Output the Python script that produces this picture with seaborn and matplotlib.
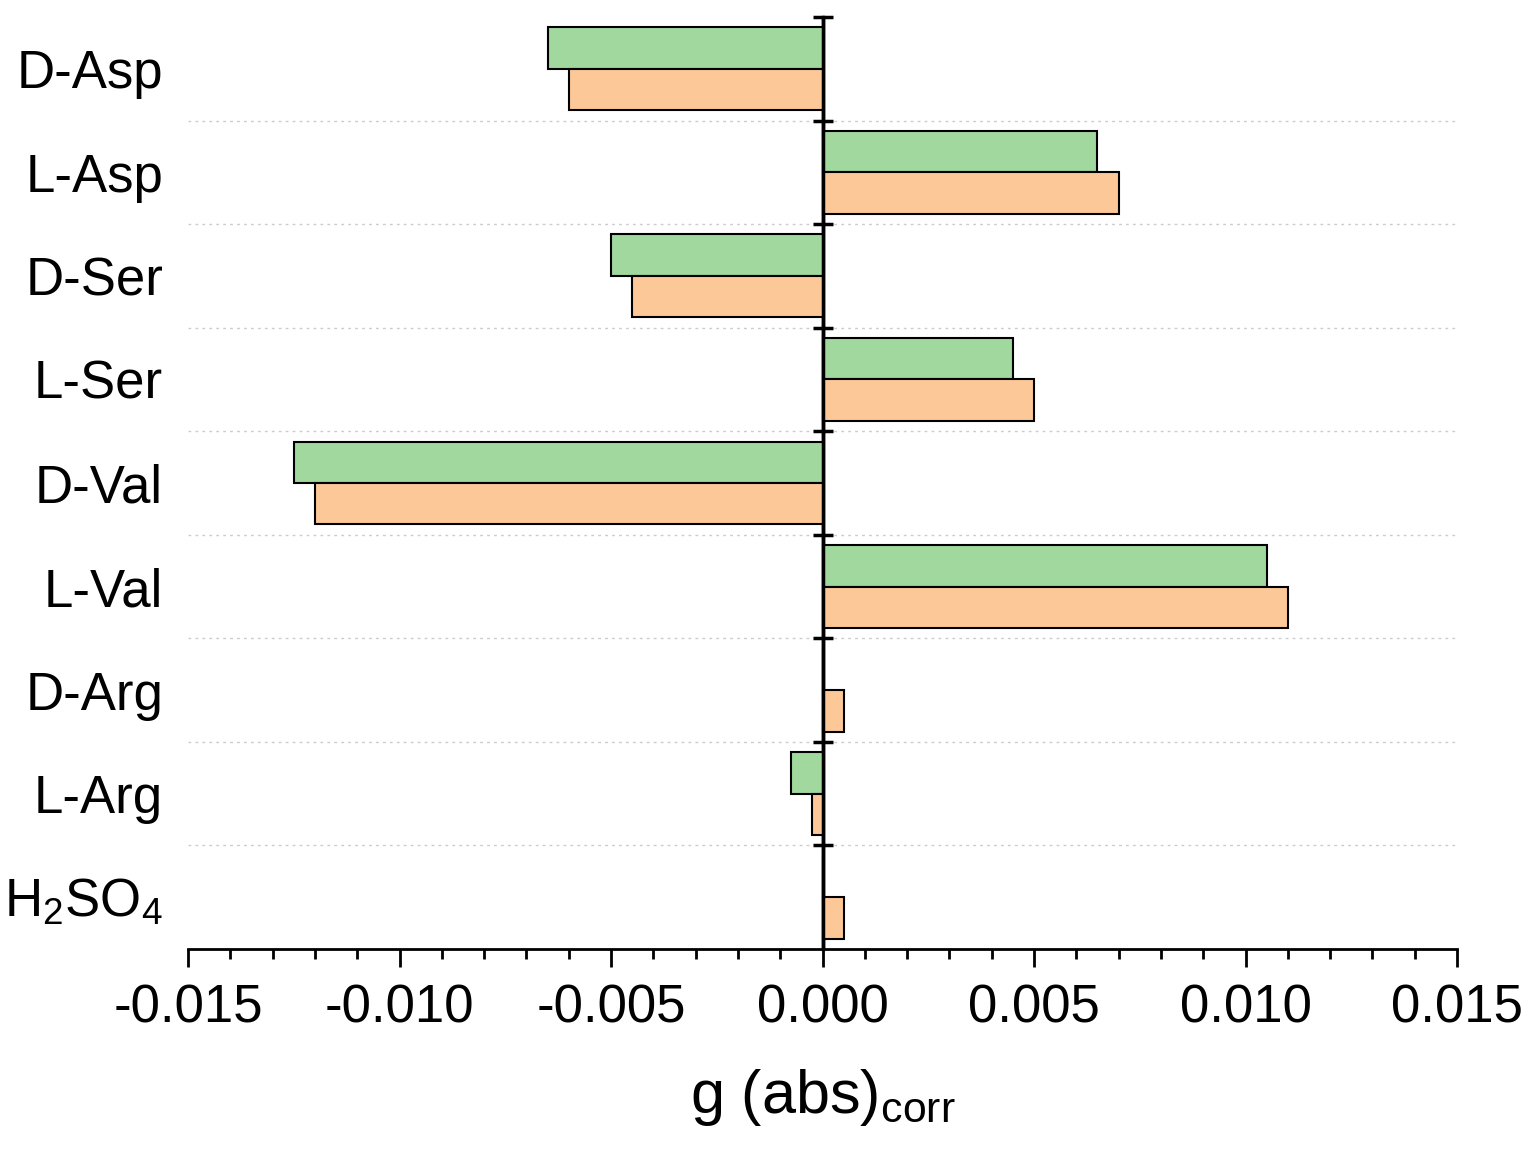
import pandas as pd
import matplotlib
matplotlib.use("Agg")
import matplotlib.pyplot as plt
import seaborn as sns
from matplotlib.ticker import MultipleLocator, FixedLocator

samples = ["D-Asp", "L-Asp", "D-Ser", "L-Ser", "D-Val", "L-Val", "D-Arg", "L-Arg", r"H$_2$SO$_4$"]
green_vals = [-0.0065, 0.0065, -0.0050, 0.0045, -0.0125, 0.0105, 0.0, -0.00075, 0.0]
orange_vals = [-0.0060, 0.0070, -0.0045, 0.0050, -0.0120, 0.0110, 0.0005, -0.00025, 0.0005]
series_names = ["Series 1", "Series 2"]
colors = ["#A0D89E", "#FDC897"]

df = pd.DataFrame({
    "sample": samples * 2,
    "g": green_vals + orange_vals,
    "series": [series_names[0]] * len(samples) + [series_names[1]] * len(samples),
})

sns.set_theme(style="white")
plt.rcParams["font.family"] = ["Liberation Sans", "DejaVu Sans"]
plt.rcParams["mathtext.fontset"] = "custom"
plt.rcParams["mathtext.rm"] = "Liberation Sans"
plt.rcParams["mathtext.it"] = "Liberation Sans:italic"
plt.rcParams["text.color"] = "black"
plt.rcParams["xtick.color"] = "black"
plt.rcParams["ytick.color"] = "black"
plt.rcParams["axes.labelcolor"] = "black"

fig = plt.figure(figsize=(15.34, 11.61), dpi=100)
ax = fig.add_axes([188 / 1534, 1 - 949 / 1161, (1457 - 188) / 1534, (949 - 17) / 1161])

sns.barplot(data=df, y="sample", x="g", hue="series", orient="h",
            palette=colors, saturation=1, edgecolor="black", linewidth=1.5,
            width=0.8, legend=False, ax=ax)

ax.set_xlim(-0.015, 0.015)
ax.set_ylim(len(samples) - 0.5, -0.5)

# dotted separators between categories
for k in range(len(samples) - 1):
    ax.axhline(k + 0.5, color="#cccccc", linestyle=(0, (2, 3)), linewidth=1, zorder=0)

# zero line
ax.axvline(0, color="black", linewidth=2.5, zorder=5)

for s in ["left", "right", "top"]:
    ax.spines[s].set_visible(False)
ax.spines["bottom"].set_linewidth(2)
ax.spines["bottom"].set_color("black")

ax.xaxis.set_minor_locator(MultipleLocator(0.001))
ax.set_xticks([-0.015, -0.010, -0.005, 0.0, 0.005, 0.010, 0.015])
ax.set_xticklabels(["-0.015", "-0.010", "-0.005", "0.000", "0.005", "0.010", "0.015"])
ax.tick_params(axis="x", which="major", direction="out", length=13, width=2,
               color="black", labelsize=38, pad=12, bottom=True)
ax.tick_params(axis="x", which="minor", direction="out", length=7, width=2,
               color="black", bottom=True)
ax.tick_params(axis="y", length=0, labelsize=38, pad=18)

ax.set_ylabel("")
ax.set_xlabel(r"g (abs)$_{\mathrm{corr}}$", fontsize=44, labelpad=24)

# boundary ticks on the zero line
zero_ax = ax.secondary_yaxis(0.5)
for s in ["left", "right"]:
    zero_ax.spines[s].set_linewidth(2.5)
    zero_ax.spines[s].set_color("black")
zero_ax.yaxis.set_major_locator(FixedLocator([k - 0.5 for k in range(len(samples))]))
zero_ax.tick_params(axis="y", direction="inout", length=14, width=2.5,
                    color="black", labelleft=False, labelright=False)

fig.savefig("out.png", dpi=100)
